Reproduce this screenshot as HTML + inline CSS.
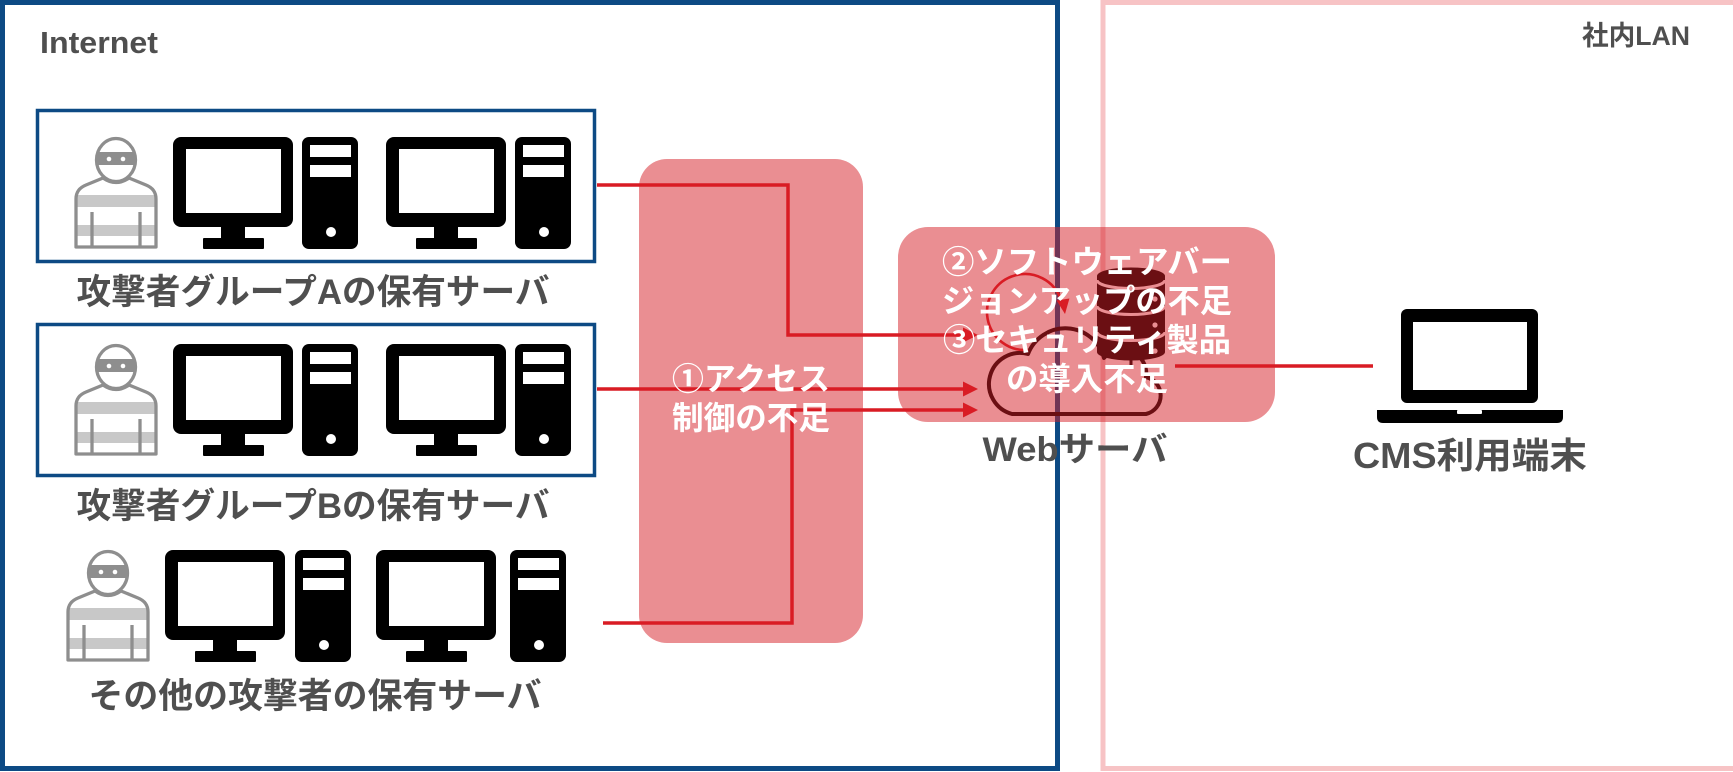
<!DOCTYPE html>
<html><head><meta charset="utf-8"><style>
html,body{margin:0;padding:0;background:#fff;width:1733px;height:772px;overflow:hidden}
svg{display:block}
text{font-family:"Liberation Sans","Noto Sans CJK JP",sans-serif;font-weight:bold}
</style></head><body>
<svg width="1733" height="772" viewBox="0 0 1733 772" xmlns="http://www.w3.org/2000/svg">
<defs>
<g id="mon">
<rect x="0" y="0" width="120" height="90" rx="8" fill="#000"/>
<rect x="13" y="12" width="95" height="64" fill="#fff"/>
<rect x="48" y="89" width="24" height="13" fill="#000"/>
<rect x="30" y="101" width="61" height="11" rx="1" fill="#000"/>
</g>
<g id="tow">
<rect x="0" y="0" width="56" height="112" rx="7" fill="#000"/>
<rect x="8" y="8" width="41" height="12" fill="#fff"/>
<rect x="8" y="28" width="41" height="12" fill="#fff"/>
<circle cx="29" cy="95" r="5" fill="#fff"/>
</g>
<g id="per">
<path d="M3,110 V62 Q3,52 13,48 L30,41 Q43,50 56,41 L73,48 Q83,52 83,62 V110 Z" fill="#fff"/>
<rect x="3" y="58" width="80" height="12" fill="#c8c8c8"/>
<rect x="3" y="88" width="80" height="11" fill="#c8c8c8"/>
<path d="M3,110 V62 Q3,52 13,48 L30,41 Q43,50 56,41 L73,48 Q83,52 83,62 V110 Z" fill="none" stroke="#8e8e8e" stroke-width="3.3" stroke-linejoin="round"/>
<line x1="19" y1="75" x2="19" y2="110" stroke="#8e8e8e" stroke-width="3.3"/>
<line x1="67" y1="75" x2="67" y2="110" stroke="#8e8e8e" stroke-width="3.3"/>
<ellipse cx="43" cy="23" rx="19.5" ry="21.5" fill="#fff" stroke="#8e8e8e" stroke-width="3.3"/>
<rect x="24" y="15" width="38" height="13" fill="#8e8e8e"/>
<circle cx="36" cy="22" r="2.3" fill="#fff"/>
<circle cx="50" cy="22" r="2.3" fill="#fff"/>
</g>
</defs>

<!-- outer regions -->
<rect x="2.5" y="2.5" width="1055" height="766" fill="none" stroke="#0d4a84" stroke-width="5"/>
<rect x="1103" y="2.5" width="1624.5" height="766" fill="none" stroke="#f7c3c5" stroke-width="5"/>

<text x="40" y="53" font-size="31" fill="#4f4f4f" textLength="118" lengthAdjust="spacingAndGlyphs">Internet</text>
<text x="1582" y="45" font-size="27" fill="#4f4f4f" textLength="108" lengthAdjust="spacingAndGlyphs">社内LAN</text>

<!-- group boxes -->
<rect x="37.5" y="110.5" width="557" height="151" fill="none" stroke="#0d4a84" stroke-width="3.5"/>
<rect x="37.5" y="324.5" width="557" height="151" fill="none" stroke="#0d4a84" stroke-width="3.5"/>

<!-- group A icons -->
<use href="#per" x="73" y="137"/>
<use href="#mon" x="173" y="137"/>
<use href="#tow" x="302" y="137"/>
<use href="#mon" x="386" y="137"/>
<use href="#tow" x="515" y="137"/>
<!-- group B icons -->
<use href="#per" x="73" y="344"/>
<use href="#mon" x="173" y="344"/>
<use href="#tow" x="302" y="344"/>
<use href="#mon" x="386" y="344"/>
<use href="#tow" x="515" y="344"/>
<!-- group C icons -->
<use href="#per" x="65" y="550"/>
<use href="#mon" x="165" y="550"/>
<use href="#tow" x="295" y="550"/>
<use href="#mon" x="376" y="550"/>
<use href="#tow" x="510" y="550"/>

<text x="313" y="304" font-size="35" fill="#4f4f4f" text-anchor="middle" textLength="473" lengthAdjust="spacingAndGlyphs">攻撃者グループAの保有サーバ</text>
<text x="313" y="518" font-size="35" fill="#4f4f4f" text-anchor="middle" textLength="473" lengthAdjust="spacingAndGlyphs">攻撃者グループBの保有サーバ</text>
<text x="315" y="708" font-size="35" fill="#4f4f4f" text-anchor="middle" textLength="453" lengthAdjust="spacingAndGlyphs">その他の攻撃者の保有サーバ</text>

<!-- web server icon (black, under overlay) -->
<path d="M1012,414 A30,30 0 0 1 1028,354 A40,40 0 0 1 1104,358 A24,24 0 0 1 1146,377 A19,19 0 0 1 1146,414 Z" fill="none" stroke="#000" stroke-width="4" stroke-linejoin="round"/>
<path d="M1097,276 V352 A34,8.5 0 0 0 1165,352 V276 Z" fill="#000"/>
<ellipse cx="1131" cy="276" rx="34" ry="8.5" fill="#000"/>
<path d="M1097,280 A34,8.5 0 0 0 1165,280" fill="none" stroke="#fff" stroke-width="3"/>
<path d="M1097,306 A34,8.5 0 0 0 1165,306" fill="none" stroke="#fff" stroke-width="3"/>
<path d="M1097,332 A34,8.5 0 0 0 1165,332" fill="none" stroke="#fff" stroke-width="3"/>
<circle cx="1155" cy="299" r="2.6" fill="#fff"/>
<circle cx="1155" cy="325" r="2.6" fill="#fff"/>
<circle cx="1155" cy="351" r="2.6" fill="#fff"/>
<line x1="1131" y1="360" x2="1131" y2="368" stroke="#000" stroke-width="3"/>

<!-- laptop -->
<rect x="1401" y="309" width="137" height="94" rx="6" fill="#000"/>
<rect x="1413" y="322" width="114" height="68" fill="#fff"/>
<path d="M1377,410 H1563 V417 Q1563,423 1557,423 H1383 Q1377,423 1377,417 Z" fill="#000"/>
<rect x="1457" y="410" width="25" height="4" rx="1" fill="#fff"/>

<!-- translucent overlays -->
<rect x="639" y="159" width="224" height="484" rx="28" fill="rgba(214,30,38,0.5)"/>
<rect x="898" y="227" width="377" height="195" rx="30" fill="rgba(214,30,38,0.5)"/>

<!-- red connectors -->
<g fill="none" stroke="#d91c24" stroke-width="3.5">
<polyline points="597,185 788,185 788,335 964,335"/>
<line x1="597" y1="389" x2="964" y2="389"/>
<polyline points="603,623 792,623 792,410 964,410"/>
<line x1="1175" y1="366" x2="1373" y2="366"/>
<path d="M1028.3,349.9 A38,38 0 1 1 1060.7,299" stroke-width="2.6"/>
</g>
<g fill="#d91c24">
<polygon points="978,335 963,327.5 963,342.5"/>
<polygon points="978,389 963,381.5 963,396.5"/>
<polygon points="978,410 963,402.5 963,417.5"/>
<polygon points="1065,314 1056.6,300.5 1069.4,298.5"/>
</g>

<!-- white labels -->
<text x="751" y="390" font-size="32" fill="#fff" text-anchor="middle" textLength="158" lengthAdjust="spacingAndGlyphs">①アクセス</text>
<text x="751" y="429" font-size="32" fill="#fff" text-anchor="middle" textLength="158" lengthAdjust="spacingAndGlyphs">制御の不足</text>
<text x="1087" y="273" font-size="32" fill="#fff" text-anchor="middle" textLength="290" lengthAdjust="spacingAndGlyphs">②ソフトウェアバー</text>
<text x="1087" y="312" font-size="32" fill="#fff" text-anchor="middle" textLength="290" lengthAdjust="spacingAndGlyphs">ジョンアップの不足</text>
<text x="1087" y="351" font-size="32" fill="#fff" text-anchor="middle" textLength="288" lengthAdjust="spacingAndGlyphs">③セキュリティ製品</text>
<text x="1087" y="390" font-size="32" fill="#fff" text-anchor="middle" textLength="162" lengthAdjust="spacingAndGlyphs">の導入不足</text>

<text x="1075" y="461" font-size="34" fill="#4f4f4f" text-anchor="middle" textLength="185" lengthAdjust="spacingAndGlyphs">Webサーバ</text>
<text x="1470" y="468" font-size="36" fill="#4f4f4f" text-anchor="middle" textLength="234" lengthAdjust="spacingAndGlyphs">CMS利用端末</text>
</svg>
</body></html>
